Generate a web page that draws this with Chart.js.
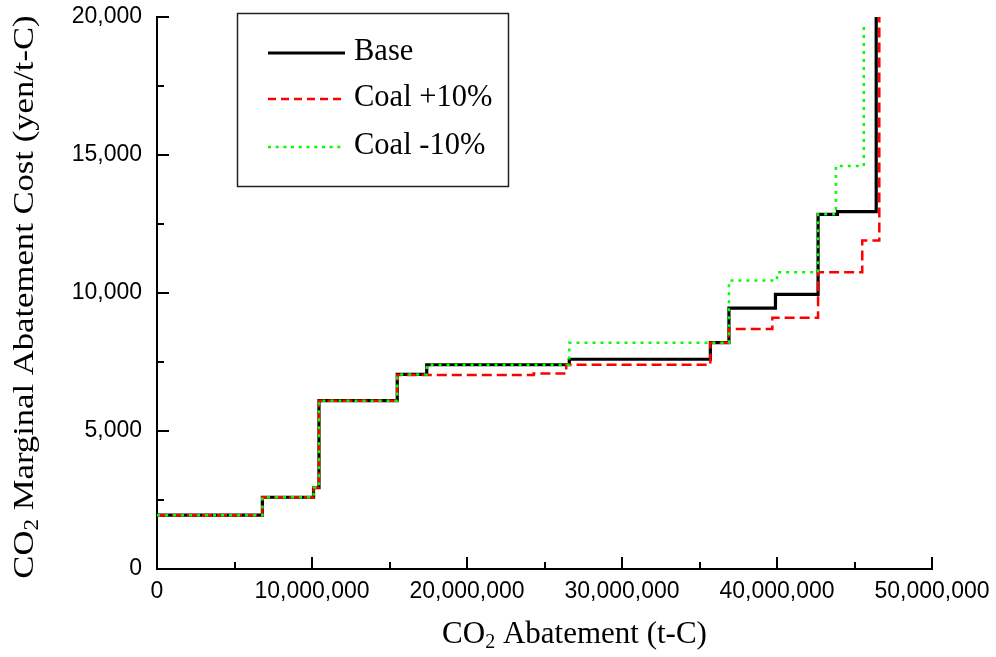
<!DOCTYPE html>
<html><head><meta charset="utf-8">
<script src="https://cdn.jsdelivr.net/npm/chart.js@4.4.1/dist/chart.umd.min.js"></script>
<style>html,body{margin:0;padding:0;background:#fff;overflow:hidden}#wrap{width:996px;height:657px}</style>
</head><body><div id="wrap"><canvas id="c" width="996" height="657"></canvas></div>
<script>
// ---- data (x: t-C, y: yen/t-C), step breakpoints ----
const seriesLabels = ['Base', 'Coal +10%', 'Coal -10%'];
const baseX = [0, 6.8e6, 10.1e6, 10.45e6, 15.5e6, 17.4e6, 26.6e6, 35.7e6, 36.9e6, 39.9e6, 42.65e6, 43.9e6, 46.4e6];
const baseY = [1950, 2600, 2950, 6100, 7050, 7400, 7600, 8200, 9450, 9950, 12850, 12950, 20000];
const plusX = [0, 6.8e6, 10.1e6, 10.45e6, 15.5e6, 24.3e6, 26.4e6, 35.7e6, 36.9e6, 39.7e6, 42.65e6, 45.5e6, 46.6e6];
const plusY = [1950, 2600, 2950, 6100, 7030, 7080, 7400, 8200, 8700, 9100, 10750, 11900, 20000];
const minusX = [0, 6.8e6, 10.1e6, 10.45e6, 15.5e6, 17.4e6, 26.6e6, 36.9e6, 40.0e6, 42.65e6, 43.8e6, 45.6e6];
const minusY = [1950, 2600, 2950, 6100, 7050, 7400, 8200, 10450, 10750, 12850, 14600, 19800];
const xMajorTicks = [0, 10e6, 20e6, 30e6, 40e6, 50e6];
const xMinorTicks = [5e6, 15e6, 25e6, 35e6, 45e6];
const yMajorTicks = [0, 5000, 10000, 15000, 20000];
const yMinorTicks = [2500, 7500, 12500, 17500];
const xTitleParts = [['CO', false], ['2', true], [' Abatement (t-C)', false]];
const yTitleParts = [['CO', false], ['2', true], [' Marginal Abatement Cost (yen/t-C)', false]];

const pts = (xs, ys) => xs.map((x, i) => ({x: x, y: ys[i]}));
const fmt = v => Number(v).toLocaleString('en-US');

const SERIF = '"Liberation Serif", "Times New Roman", serif';
const SANS = '"Liberation Sans", Arial, sans-serif';

function drawParts(ctx, parts, x, y, size, subSize, subShift) {
  let cx = x;
  for (const [t, sub] of parts) {
    ctx.font = (sub ? subSize : size) + 'px ' + SERIF;
    ctx.fillText(t, cx, sub ? y + subShift : y);
    cx += ctx.measureText(t).width;
  }
}
function partsWidth(ctx, parts, size, subSize) {
  let w = 0;
  for (const [t, sub] of parts) {
    ctx.font = (sub ? subSize : size) + 'px ' + SERIF;
    w += ctx.measureText(t).width;
  }
  return w;
}

const decorPlugin = {
  id: 'decor',
  afterDraw(chart) {
    const ctx = chart.ctx, xs = chart.scales.x, ys = chart.scales.y, a = chart.chartArea;
    ctx.save();
    // inward ticks
    ctx.strokeStyle = '#000'; ctx.lineWidth = 2;
    const tick = (px1, py1, px2, py2) => { ctx.beginPath(); ctx.moveTo(px1, py1); ctx.lineTo(px2, py2); ctx.stroke(); };
    xMajorTicks.forEach(v => { const p = Math.round(xs.getPixelForValue(v)); tick(p, a.bottom, p, a.bottom - 12); });
    xMinorTicks.forEach(v => { const p = Math.round(xs.getPixelForValue(v)); tick(p, a.bottom, p, a.bottom - 7); });
    yMajorTicks.forEach(v => { const p = Math.round(ys.getPixelForValue(v)); tick(a.left, p, a.left + 12, p); });
    yMinorTicks.forEach(v => { const p = Math.round(ys.getPixelForValue(v)); tick(a.left, p, a.left + 7, p); });

    // axis titles
    ctx.fillStyle = '#000'; ctx.textBaseline = 'alphabetic'; ctx.textAlign = 'left';
    const wx = partsWidth(ctx, xTitleParts, 31, 20);
    const cxTitle = (a.left + a.right) / 2 + 30;
    drawParts(ctx, xTitleParts, cxTitle - wx / 2, 643, 31, 20, 5);

    const wy = partsWidth(ctx, yTitleParts, 30, 20);
    ctx.save();
    ctx.translate(33, (a.top + a.bottom) / 2 + 4);
    ctx.rotate(-Math.PI / 2);
    ctx.scale(1.155, 1);
    drawParts(ctx, yTitleParts, -wy / 2, 0, 30, 20, 5);
    ctx.restore();

    // legend
    ctx.strokeStyle = '#222'; ctx.lineWidth = 1.5; ctx.setLineDash([]);
    ctx.strokeRect(237.5, 13.5, 271, 173);
    const rows = [53, 99, 147];
    const legendDash = [[], [8, 5], [3, 4.7]];
    chart.data.datasets.forEach((ds, i) => {
      ctx.strokeStyle = ds.borderColor; ctx.lineWidth = ds.borderWidth;
      ctx.setLineDash(legendDash[i]);
      ctx.beginPath(); ctx.moveTo(268, rows[i]); ctx.lineTo(345, rows[i]); ctx.stroke();
      ctx.setLineDash([]);
      ctx.fillStyle = '#000'; ctx.font = '30.5px ' + SERIF;
      ctx.fillText(ds.label, 354, rows[i] + 6.8);
    });
    ctx.restore();
  }
};

new Chart(document.getElementById('c'), {
  type: 'line',
  data: {
    datasets: [
      {label: seriesLabels[0], data: pts(baseX, baseY), borderColor: '#000000', borderWidth: 3.2, stepped: true, pointRadius: 0, order: 3},
      {label: seriesLabels[1], data: pts(plusX, plusY), borderColor: '#ff0000', borderWidth: 2.5, borderDash: [10, 5], stepped: true, pointRadius: 0, order: 2},
      {label: seriesLabels[2], data: pts(minusX, minusY), borderColor: '#00ff00', borderWidth: 2.5, borderDash: [3, 5], stepped: true, pointRadius: 0, order: 1}
    ]
  },
  options: {
    responsive: false, animation: false, devicePixelRatio: 1,
    layout: {padding: {top: 17, right: 64, left: 0, bottom: 0}},
    plugins: {legend: {display: false}, tooltip: {enabled: false}, title: {display: false}},
    scales: {
      x: {
        type: 'linear', min: 0, max: 50e6,
        ticks: {stepSize: 10e6, callback: v => fmt(v), color: '#000', font: {family: SANS, size: 23}, padding: 0, maxRotation: 0, autoSkip: false},
        grid: {display: false, drawTicks: true, tickLength: 9},
        border: {display: true, color: '#000', width: 2},
        afterFit: s => { s.height = 88; }
      },
      y: {
        type: 'linear', min: 0, max: 20000,
        ticks: {stepSize: 5000, callback: v => fmt(v), color: '#000', font: {family: SANS, size: 23}, padding: 0},
        grid: {display: false, drawTicks: true, tickLength: 15},
        border: {display: true, color: '#000', width: 2},
        afterFit: s => { s.width = 157; }
      }
    }
  },
  plugins: [decorPlugin]
});
</script></body></html>
